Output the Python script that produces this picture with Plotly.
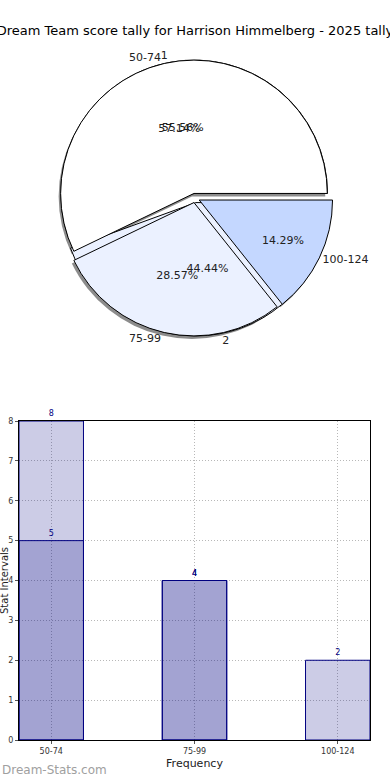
import plotly.graph_objects as go

# ---- data ----
pie_labels = ["50-74", "75-99", "100-124"]
pie_values = [8, 4, 2]
pie2_labels = ["1", "2"]
pie2_values = [5, 4]

bar_categories = ["50-74", "75-99", "100-124"]
bar_values_a = [8, 4, 2]
bar_values_b = [5, 4]

title_text = "Dream Team score tally for Harrison Himmelberg - 2025 tally"

W, H = 390, 780
FONT = "DejaVu Sans"

pie_colors = ["#ffffff", "#ebf1ff", "#c4d7ff"]
pie2_colors = ["#ffffff", "#ebf1ff"]

# pie domain (paper coords)
cx, cy, half = 195, 198, 138
def dom(dx=0, dy=0):
    return dict(x=[(cx - half + dx) / W, (cx + half + dx) / W],
                y=[1 - (cy + half + dy) / H, 1 - (cy - half + dy) / H])

PULL = 0.035

def rot(vals):
    # first slice starts at 3 o'clock and runs counter-clockwise (as in matplotlib)
    return 90 - 360.0 * vals[0] / sum(vals)

common = dict(sort=False, direction="counterclockwise",
              showlegend=False, hoverinfo="skip")
TXT = dict(family=FONT, size=11, color="#222")
CLEAR = "rgba(0,0,0,0)"

fig = go.Figure()

# shadow
fig.add_trace(go.Pie(labels=pie_labels, values=pie_values, domain=dom(-2, 3),
                     rotation=rot(pie_values),
                     marker=dict(colors=["rgba(0,0,0,0.45)"] * 3, line=dict(width=0)),
                     pull=PULL, textinfo="none", **common))
# second pie (underneath)
fig.add_trace(go.Pie(labels=pie2_labels, values=pie2_values, domain=dom(),
                     rotation=rot(pie2_values),
                     marker=dict(colors=pie2_colors, line=dict(color="black", width=1)),
                     pull=PULL, textinfo="none", **common))
# main pie
fig.add_trace(go.Pie(labels=pie_labels, values=pie_values, domain=dom(),
                     rotation=rot(pie_values),
                     marker=dict(colors=pie_colors, line=dict(color="black", width=1)),
                     pull=PULL, textinfo="none", **common))
# text layers on top (transparent pies)
for labs, vals in ((pie_labels, pie_values), (pie2_labels, pie2_values)):
    fig.add_trace(go.Pie(labels=labs, values=vals, domain=dom(), rotation=rot(vals),
                         marker=dict(colors=[CLEAR] * len(vals), line=dict(width=0)),
                         pull=PULL, texttemplate="%{percent:.2%}", textposition="inside",
                         insidetextorientation="horizontal", textfont=TXT, **common))
    fig.add_trace(go.Pie(labels=labs, values=vals, domain=dom(), rotation=rot(vals),
                         marker=dict(colors=[CLEAR] * len(vals), line=dict(width=0)),
                         pull=PULL, textinfo="label", textposition="outside",
                         textfont=TXT, **common))

# bars
bar_style = dict(marker=dict(color="rgba(0,0,128,0.2)", line=dict(color="#000080", width=1)),
                 width=0.45, textposition="outside", cliponaxis=False,
                 textfont=dict(family=FONT, size=8, color="#000080"),
                 showlegend=False, hoverinfo="skip")
fig.add_trace(go.Bar(x=bar_categories, y=bar_values_a, text=bar_values_a, **bar_style))
fig.add_trace(go.Bar(x=bar_categories[:len(bar_values_b)], y=bar_values_b,
                     text=bar_values_b, **bar_style))

axis_common = dict(showline=True, mirror=True, linecolor="black", linewidth=1,
                   showgrid=True, gridcolor="#b8b8b8", griddash="1px,2px", gridwidth=1,
                   ticks="outside", ticklen=3, tickcolor="#555", automargin=False,
                   tickfont=dict(family=FONT, size=8, color="#333"), zeroline=False)

fig.update_layout(
    width=W, height=H, paper_bgcolor="white", plot_bgcolor="white",
    margin=dict(l=0, r=0, t=0, b=0),
    barmode="overlay",
    font=dict(family=FONT),
    title=dict(text=title_text, x=0.5, xanchor="center", y=1 - 30 / H, yanchor="middle",
               font=dict(family=FONT, size=13, color="black"), automargin=False),
    xaxis=dict(domain=[19 / W, 370 / W], range=[-0.225, 2.225], type="category",
               title=dict(text="Frequency", font=dict(family=FONT, size=11, color="#222"), standoff=4),
               **axis_common),
    yaxis=dict(domain=[1 - 740 / H, 1 - 421 / H], range=[0, 8], dtick=1, **axis_common),
    annotations=[
        dict(text="Stat Intervals", x=4 / W, y=1 - 581 / H, xref="paper", yref="paper",
             xanchor="center", yanchor="middle", textangle=-90, showarrow=False,
             font=dict(family=FONT, size=10, color="#222")),
        dict(text="Dream-Stats.com", x=0, y=1 - 770 / H, xref="paper", yref="paper",
             xanchor="left", yanchor="middle", showarrow=False,
             font=dict(family=FONT, size=12, color="#a0a0a0")),
    ],
)

fig.write_html("out.html", config={"displayModeBar": False},
               post_script="document.body.style.margin='0';")
